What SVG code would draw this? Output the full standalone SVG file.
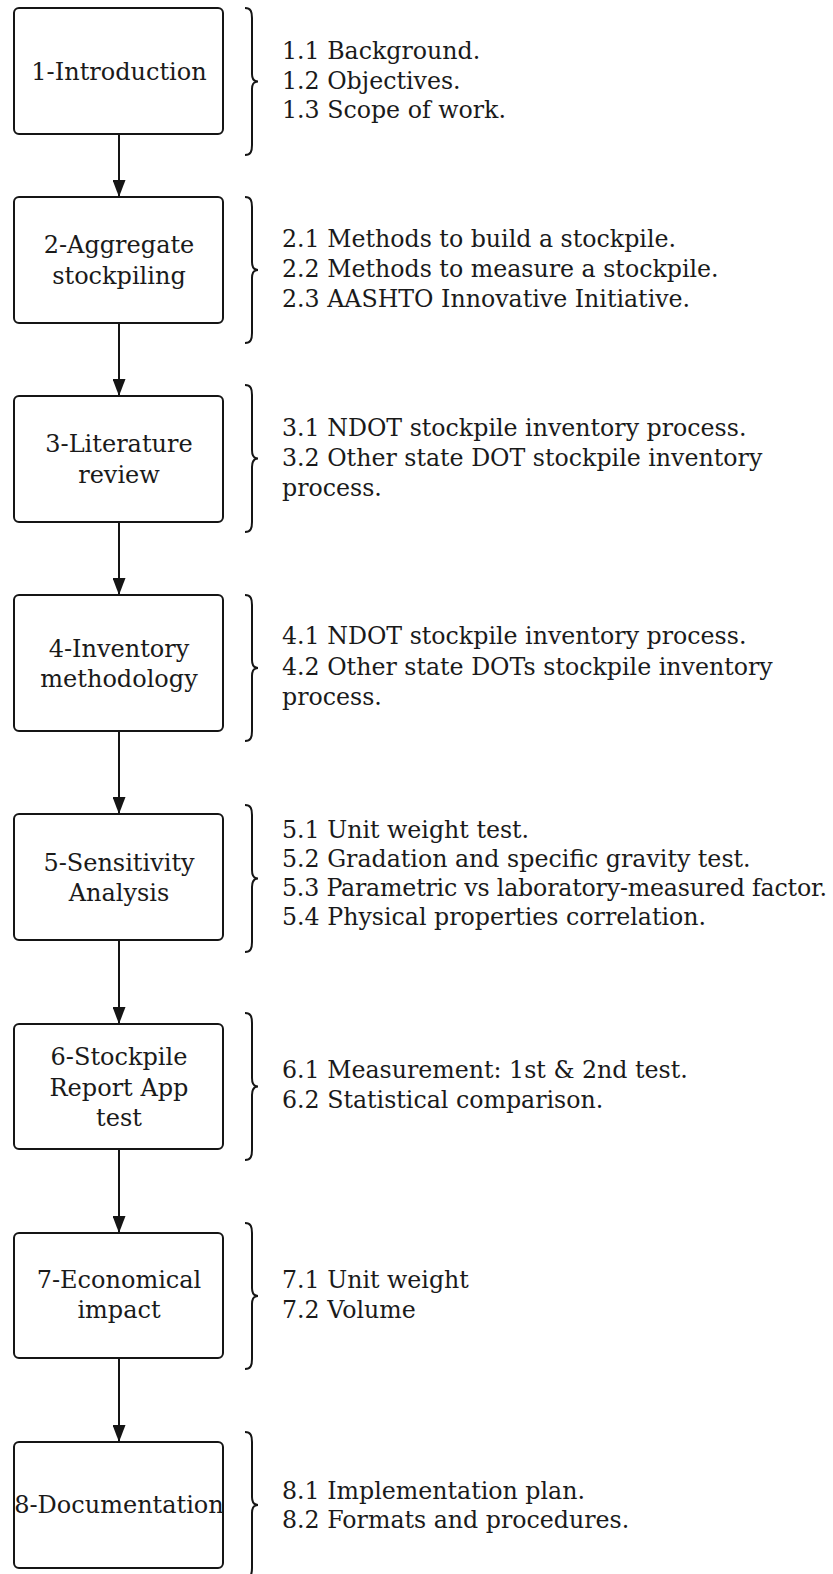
<svg xmlns="http://www.w3.org/2000/svg" width="833" height="1574" viewBox="0 0 833 1574">
<style>
  .box{fill:#fff;stroke:#151515;stroke-width:2}
  .brace{fill:none;stroke:#151515;stroke-width:2}
  .conn{stroke:#151515;stroke-width:2;fill:none}
  text{font-family:"DejaVu Serif","Liberation Serif",serif;font-size:24px;fill:#1a1a1a}
  .c{text-anchor:middle}
  .r{font-size:23.7px}
</style>
<defs>
  <marker id="arr" markerUnits="userSpaceOnUse" markerWidth="17" markerHeight="13" viewBox="0 0 17 13" refX="17" refY="6.5" orient="auto">
    <path d="M0,0 L17,6.5 L0,13 z" fill="#151515"/>
  </marker>
</defs>
<rect width="833" height="1574" fill="#fff"/>

<g id="connectors">
  <line class="conn" x1="119" y1="134" x2="119" y2="197" marker-end="url(#arr)"/>
  <line class="conn" x1="119" y1="323" x2="119" y2="396" marker-end="url(#arr)"/>
  <line class="conn" x1="119" y1="522" x2="119" y2="595" marker-end="url(#arr)"/>
  <line class="conn" x1="119" y1="731" x2="119" y2="814" marker-end="url(#arr)"/>
  <line class="conn" x1="119" y1="940" x2="119" y2="1024" marker-end="url(#arr)"/>
  <line class="conn" x1="119" y1="1149" x2="119" y2="1233" marker-end="url(#arr)"/>
  <line class="conn" x1="119" y1="1358" x2="119" y2="1442" marker-end="url(#arr)"/>
</g>

<g id="node1">
  <rect class="box" x="14" y="8" width="209" height="126" rx="5"/>
  <text class="c" x="119" y="80">1-Introduction</text>
  <path class="brace" d="M245,8 C251,8 252,12 252,18 L252,74 C252,79 254,81.5 258,81.5 C254,81.5 252,84 252,89 L252,145 C252,151 251,155 245,155"/>
  <text class="r" x="282" y="59">1.1 Background.</text>
  <text class="r" x="282" y="88.5">1.2 Objectives.</text>
  <text class="r" x="282" y="118">1.3 Scope of work.</text>
</g>

<g id="node2">
  <rect class="box" x="14" y="197" width="209" height="126" rx="5"/>
  <text class="c" x="119" y="253">2-Aggregate</text>
  <text class="c" x="119" y="284">stockpiling</text>
  <path class="brace" d="M245,197 C251,197 252,201 252,207 L252,262 C252,267 254,270 258,270 C254,270 252,273 252,278 L252,333 C252,339 251,343 245,343"/>
  <text class="r" x="282" y="247">2.1 Methods to build a stockpile.</text>
  <text class="r" x="282" y="277">2.2 Methods to measure a stockpile.</text>
  <text class="r" x="282" y="307">2.3 AASHTO Innovative Initiative.</text>
</g>

<g id="node3">
  <rect class="box" x="14" y="396" width="209" height="126" rx="5"/>
  <text class="c" x="119" y="452">3-Literature</text>
  <text class="c" x="119" y="483">review</text>
  <path class="brace" d="M245,385 C251,385 252,389 252,395 L252,450 C252,455 254,458.5 258,458.5 C254,458.5 252,462 252,467 L252,522 C252,528 251,532 245,532"/>
  <text class="r" x="282" y="436">3.1 NDOT stockpile inventory process.</text>
  <text class="r" x="282" y="466">3.2 Other state DOT stockpile inventory</text>
  <text class="r" x="282" y="496">process.</text>
</g>

<g id="node4">
  <rect class="box" x="14" y="595" width="209" height="136" rx="5"/>
  <text class="c" x="119" y="657">4-Inventory</text>
  <text class="c" x="119" y="687">methodology</text>
  <path class="brace" d="M245,595 C251,595 252,599 252,605 L252,660 C252,665 254,668 258,668 C254,668 252,671 252,676 L252,731 C252,737 251,741 245,741"/>
  <text class="r" x="282" y="644">4.1 NDOT stockpile inventory process.</text>
  <text class="r" x="282" y="675">4.2 Other state DOTs stockpile inventory</text>
  <text class="r" x="282" y="705">process.</text>
</g>

<g id="node5">
  <rect class="box" x="14" y="814" width="209" height="126" rx="5"/>
  <text class="c" x="119" y="871">5-Sensitivity</text>
  <text class="c" x="119" y="901">Analysis</text>
  <path class="brace" d="M245,805 C251,805 252,809 252,815 L252,870 C252,875 254,878.5 258,878.5 C254,878.5 252,882 252,887 L252,942 C252,948 251,952 245,952"/>
  <text class="r" x="282" y="837.5">5.1 Unit weight test.</text>
  <text class="r" x="282" y="867">5.2 Gradation and specific gravity test.</text>
  <text class="r" x="282" y="896" textLength="545" lengthAdjust="spacing">5.3 Parametric vs laboratory-measured factor.</text>
  <text class="r" x="282" y="925">5.4 Physical properties correlation.</text>
</g>

<g id="node6">
  <rect class="box" x="14" y="1024" width="209" height="125" rx="5"/>
  <text class="c" x="119" y="1065">6-Stockpile</text>
  <text class="c" x="119" y="1096">Report App</text>
  <text class="c" x="119" y="1126">test</text>
  <path class="brace" d="M245,1013 C251,1013 252,1017 252,1023 L252,1078 C252,1083 254,1086.5 258,1086.5 C254,1086.5 252,1090 252,1095 L252,1150 C252,1156 251,1160 245,1160"/>
  <text class="r" x="282" y="1078">6.1 Measurement: 1st &amp; 2nd test.</text>
  <text class="r" x="282" y="1108">6.2 Statistical comparison.</text>
</g>

<g id="node7">
  <rect class="box" x="14" y="1233" width="209" height="125" rx="5"/>
  <text class="c" x="119" y="1288">7-Economical</text>
  <text class="c" x="119" y="1318">impact</text>
  <path class="brace" d="M245,1223 C251,1223 252,1227 252,1233 L252,1288 C252,1293 254,1296 258,1296 C254,1296 252,1299 252,1304 L252,1359 C252,1365 251,1369 245,1369"/>
  <text class="r" x="282" y="1288">7.1 Unit weight</text>
  <text class="r" x="282" y="1318">7.2 Volume</text>
</g>

<g id="node8">
  <rect class="box" x="14" y="1442" width="209" height="126" rx="5"/>
  <text class="c" x="119" y="1513">8-Documentation</text>
  <path class="brace" d="M245,1432 C251,1432 252,1436 252,1442 L252,1497 C252,1502 254,1505 258,1505 C254,1505 252,1508 252,1513 L252,1568 C252,1574 251,1578 245,1578"/>
  <text class="r" x="282" y="1499">8.1 Implementation plan.</text>
  <text class="r" x="282" y="1528">8.2 Formats and procedures.</text>
</g>
</svg>
